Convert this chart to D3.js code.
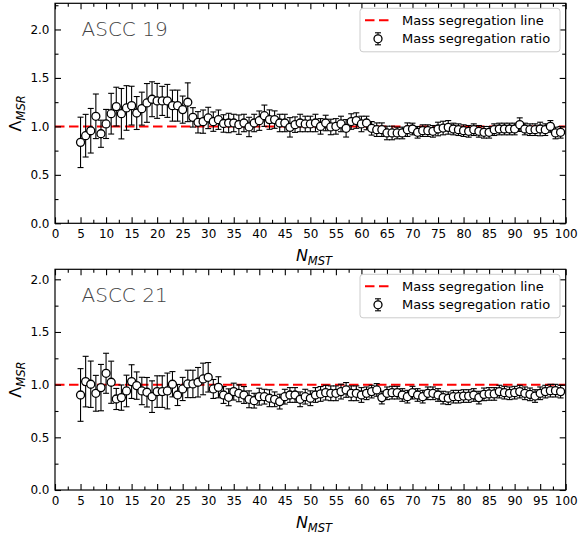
<!DOCTYPE html>
<html>
<head>
<meta charset="utf-8">
<script src="https://cdn.jsdelivr.net/npm/d3@7"></script>
<style>
  body { margin: 0; background: #fff; }
  text { font-family: "DejaVu Sans", sans-serif; }
</style>
</head>
<body>
<svg id="chart" width="581" height="535"></svg>
<script>
// number of MST members used
let nMST = [5,6,7,8,9,10,11,12,13,14,15,16,17,18,19,20,21,22,23,24,25,26,27,28,29,30,
  31,32,33,34,35,36,37,38,39,40,41,42,43,44,45,46,47,48,49,50,51,52,53,54,55,56,57,58,59,60,
  61,62,63,64,65,66,67,68,69,70,71,72,73,74,75,76,77,78,79,80,81,82,83,84,85,86,87,88,89,90,
  91,92,93,94,95,96,97,98,99];

let ascc19Ratio = [0.835,0.904,0.955,1.104,0.924,1.025,1.131,1.204,1.131,1.19,1.214,1.138,1.183,1.242,1.28,1.263,1.263,1.263,1.214,1.214,1.173,1.249,1.093,1.042,1.049,1.087,
  1.049,1.069,1.03,1.035,1.035,1.018,1.035,0.994,1.035,1.059,1.11,1.07,1.07,1.035,1.035,0.99,1.018,1.035,1.025,1.025,1.035,1.0,1.035,0.994,1.0,1.025,0.98,1.05,1.06,1.025,
  1.035,0.98,0.966,0.966,0.932,0.932,0.932,0.932,0.966,0.973,0.939,0.956,0.956,0.949,0.973,0.983,0.99,0.973,0.966,0.956,0.949,0.966,0.949,0.939,0.939,0.966,0.973,0.973,0.973,0.973,
  1.018,0.973,0.966,0.966,0.973,0.966,1.0,0.932,0.939];
let ascc19Err = [0.26,0.22,0.23,0.23,0.14,0.15,0.21,0.2,0.26,0.23,0.2,0.17,0.17,0.2,0.18,0.18,0.15,0.17,0.16,0.16,0.14,0.2,0.1,0.11,0.12,0.11,
  0.1,0.1,0.09,0.1,0.09,0.1,0.09,0.1,0.09,0.1,0.11,0.1,0.09,0.09,0.09,0.1,0.08,0.09,0.08,0.08,0.09,0.08,0.08,0.08,0.08,0.08,0.09,0.08,0.08,0.08,
  0.07,0.07,0.07,0.07,0.07,0.07,0.06,0.06,0.07,0.06,0.06,0.06,0.06,0.06,0.07,0.07,0.07,0.06,0.06,0.06,0.06,0.06,0.06,0.06,0.06,0.06,0.06,0.06,0.06,0.06,
  0.07,0.06,0.06,0.06,0.07,0.06,0.06,0.06,0.06];

let ascc21Ratio = [0.902,1.029,1.004,0.918,0.972,1.108,1.023,0.864,0.877,0.94,1.029,0.991,0.94,0.928,0.886,0.934,0.934,0.94,1.004,0.902,0.959,1.007,1.007,1.023,1.054,1.07,
  0.959,0.975,0.902,0.88,0.934,0.918,0.902,0.861,0.848,0.886,0.886,0.871,0.861,0.839,0.886,0.902,0.902,0.861,0.886,0.871,0.902,0.912,0.924,0.918,0.918,0.934,0.95,0.918,0.918,0.902,
  0.918,0.934,0.95,0.877,0.918,0.924,0.924,0.902,0.886,0.924,0.902,0.886,0.918,0.918,0.902,0.877,0.871,0.886,0.886,0.892,0.892,0.902,0.877,0.908,0.912,0.912,0.934,0.924,0.918,0.924,
  0.934,0.918,0.908,0.892,0.918,0.934,0.943,0.943,0.934];
let ascc21Err = [0.25,0.24,0.22,0.17,0.22,0.19,0.2,0.1,0.12,0.15,0.16,0.13,0.13,0.14,0.15,0.15,0.15,0.17,0.12,0.1,0.11,0.13,0.13,0.14,0.15,0.14,
  0.09,0.1,0.08,0.08,0.08,0.08,0.08,0.08,0.07,0.08,0.07,0.08,0.07,0.07,0.07,0.07,0.07,0.07,0.07,0.07,0.07,0.07,0.07,0.07,0.07,0.07,0.07,0.07,0.07,0.07,
  0.06,0.06,0.06,0.06,0.06,0.06,0.06,0.06,0.06,0.06,0.06,0.06,0.06,0.06,0.06,0.06,0.06,0.06,0.06,0.06,0.06,0.06,0.06,0.06,0.06,0.06,0.06,0.06,0.06,0.06,
  0.06,0.06,0.06,0.06,0.06,0.06,0.06,0.06,0.06];

let xTicks = [0,5,10,15,20,25,30,35,40,45,50,55,60,65,70,75,80,85,90,95,100];
let yTicks = [0.0,0.5,1.0,1.5,2.0];
let legendLabels = ['Mass segregation line', 'Mass segregation ratio'];

let panels = [
  {name: 'ASCC 19', ratio: ascc19Ratio, err: ascc19Err, top: 3.3, bottom: 223.3, yMax: 2.27},
  {name: 'ASCC 21', ratio: ascc21Ratio, err: ascc21Err, top: 269.3, bottom: 490, yMax: 2.095}
];

let svg = d3.select('#chart');
svg.append('rect').attr('width', 581).attr('height', 535).attr('fill', '#fff');

let left = 55, right = 565.7;

function drawPanel(p) {
  let x = d3.scaleLinear().domain([0, 100]).range([left, right]);
  let y = d3.scaleLinear().domain([0, p.yMax]).range([p.bottom, p.top]);
  let g = svg.append('g');

  let minorX = d3.range(0, 101, 2.5).filter(v => v % 5 != 0);
  let minorY = d3.range(0.25, p.yMax, 0.5);

  // red reference line
  g.append('line')
    .attr('x1', x(0)).attr('x2', x(100))
    .attr('y1', y(1)).attr('y2', y(1))
    .style('stroke', '#ff0000').style('stroke-width', 2)
    .style('stroke-dasharray', '9.5,4.5');

  // error bars
  let pts = nMST.map((n, i) => ({n: n, v: p.ratio[i], e: p.err[i]}));
  let eb = g.selectAll('g.eb').data(pts).enter().append('g').attr('class', 'eb')
    .style('stroke', '#000').style('stroke-width', 1.1);
  eb.append('line')
    .attr('x1', d => x(d.n)).attr('x2', d => x(d.n))
    .attr('y1', d => y(d.v + d.e)).attr('y2', d => y(d.v - d.e));
  eb.append('line')
    .attr('x1', d => x(d.n) - 3).attr('x2', d => x(d.n) + 3)
    .attr('y1', d => y(d.v + d.e)).attr('y2', d => y(d.v + d.e));
  eb.append('line')
    .attr('x1', d => x(d.n) - 3).attr('x2', d => x(d.n) + 3)
    .attr('y1', d => y(d.v - d.e)).attr('y2', d => y(d.v - d.e));

  g.selectAll('circle.pt').data(pts).enter().append('circle').attr('class', 'pt')
    .attr('cx', d => x(d.n)).attr('cy', d => y(d.v)).attr('r', 4)
    .style('fill', '#fff').style('stroke', '#000').style('stroke-width', 1.3);

  // axes with inward ticks
  let fmtY = d3.format('.1f');
  g.append('g').attr('transform', 'translate(0,' + p.bottom + ')')
    .call(d3.axisBottom(x).tickValues(xTicks).tickSize(-6).tickPadding(6.5));
  g.append('g').attr('transform', 'translate(0,' + p.bottom + ')')
    .call(d3.axisBottom(x).tickValues(minorX).tickSize(-3.5).tickFormat(''));
  g.append('g').attr('transform', 'translate(0,' + p.top + ')')
    .call(d3.axisTop(x).tickValues(xTicks).tickSize(-6).tickFormat(''));
  g.append('g').attr('transform', 'translate(0,' + p.top + ')')
    .call(d3.axisTop(x).tickValues(minorX).tickSize(-3.5).tickFormat(''));
  g.append('g').attr('transform', 'translate(' + left + ',0)')
    .call(d3.axisLeft(y).tickValues(yTicks).tickSize(-6).tickPadding(5.5).tickFormat(fmtY));
  g.append('g').attr('transform', 'translate(' + left + ',0)')
    .call(d3.axisLeft(y).tickValues(minorY).tickSize(-3.5).tickFormat(''));
  g.append('g').attr('transform', 'translate(' + right + ',0)')
    .call(d3.axisRight(y).tickValues(yTicks).tickSize(-6).tickFormat(''));
  g.append('g').attr('transform', 'translate(' + right + ',0)')
    .call(d3.axisRight(y).tickValues(minorY).tickSize(-3.5).tickFormat(''));
  g.selectAll('.domain').remove();
  g.selectAll('.tick line').style('stroke', '#000').style('stroke-width', 1.1);
  g.selectAll('.tick text').style('font-family', 'DejaVu Sans').style('font-size', '12px').style('fill', '#000');

  g.append('rect')
    .attr('x', left).attr('y', p.top).attr('width', right - left).attr('height', p.bottom - p.top)
    .style('fill', 'none').style('stroke', '#000').style('stroke-width', 1.2);

  // panel name
  g.append('text').attr('x', 81.5).attr('y', p.top + 32.7)
    .style('font-size', '20px').style('font-weight', 300).style('fill', '#444')
    .text(p.name);

  // axis labels
  let xl = g.append('text').attr('x', 314).attr('y', p.bottom + 38)
    .attr('text-anchor', 'middle').style('font-size', '16px').style('font-style', 'italic');
  xl.append('tspan').text('N');
  xl.append('tspan').attr('dy', 3.5).style('font-size', '11.5px').text('MST');

  let yl = g.append('text')
    .attr('transform', 'translate(21,' + ((p.top + p.bottom) / 2) + ') rotate(-90)')
    .attr('text-anchor', 'middle').style('font-size', '16px');
  yl.append('tspan').text('Λ');
  yl.append('tspan').attr('dy', 4).style('font-size', '11.5px').style('font-style', 'italic').text('MSR');

  // legend
  let lg = g.append('g').attr('transform', 'translate(360,' + (p.top + 5) + ')');
  lg.append('rect').attr('width', 200).attr('height', 43.5).attr('rx', 3)
    .style('fill', '#fff').style('fill-opacity', 0.8).style('stroke', '#ccc').style('stroke-width', 1);
  lg.append('line').attr('x1', 5).attr('x2', 32).attr('y1', 12).attr('y2', 12)
    .style('stroke', '#ff0000').style('stroke-width', 2).style('stroke-dasharray', '9.5,4.5');
  lg.append('line').attr('x1', 18).attr('x2', 18).attr('y1', 24.5).attr('y2', 36.5)
    .style('stroke', '#000').style('stroke-width', 1.1);
  lg.append('line').attr('x1', 15).attr('x2', 21).attr('y1', 24.5).attr('y2', 24.5)
    .style('stroke', '#000').style('stroke-width', 1.1);
  lg.append('line').attr('x1', 15).attr('x2', 21).attr('y1', 36.5).attr('y2', 36.5)
    .style('stroke', '#000').style('stroke-width', 1.1);
  lg.append('circle').attr('cx', 18).attr('cy', 30.5).attr('r', 4)
    .style('fill', '#fff').style('stroke', '#000').style('stroke-width', 1.3);
  lg.selectAll('text.lab').data(legendLabels).enter().append('text').attr('class', 'lab')
    .attr('x', 42).attr('y', (d, i) => 16.7 + i * 18.3)
    .style('font-size', '13px').text(d => d);
}

panels.forEach(drawPanel);
</script>
</body>
</html>
